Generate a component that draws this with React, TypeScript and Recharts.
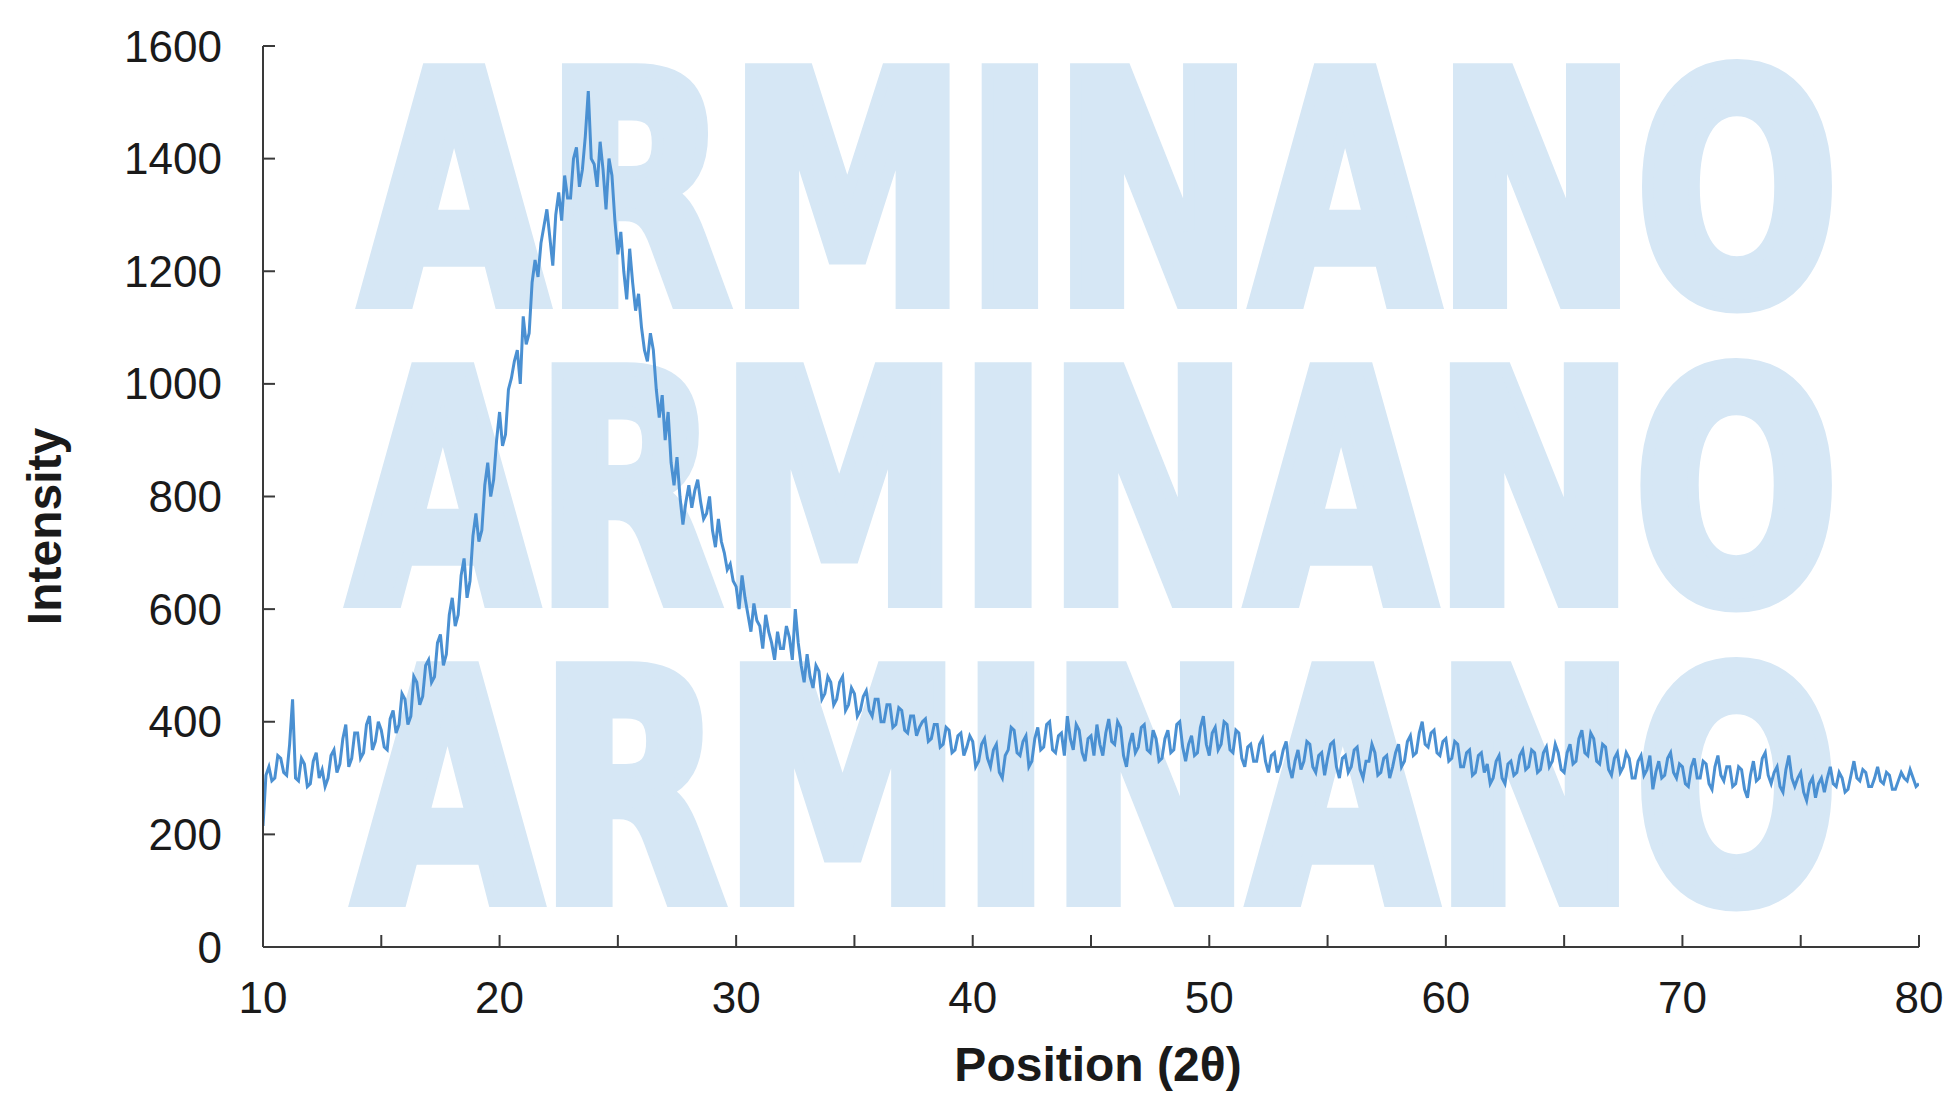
import React from 'react';
import { LineChart, Line, XAxis, YAxis, Customized } from 'recharts';

// Sampling grid of the scan (degrees 2θ)
const START_ANGLE = 10;
const STEP_ANGLE = 0.125;

// Intensity, eight values per degree from 10° to 80°
const intensity10to20 = [
  215, 305, 320, 295, 300, 340, 335, 310,
  305, 360, 440, 300, 295, 335, 325, 285,
  290, 330, 345, 300, 315, 285, 300, 340,
  350, 310, 325, 370, 395, 320, 335, 380,
  380, 335, 345, 395, 410, 350, 365, 400,
  385, 355, 350, 405, 420, 380, 395, 450,
  440, 395, 410, 480, 470, 430, 445, 500,
  510, 470, 480, 540, 555, 500, 520, 590,
  620, 570, 590, 660, 690, 620, 650, 730,
  770, 720, 740, 820, 860, 800, 830, 900,
];
const intensity20to30 = [
  950, 890, 910, 990, 1010, 1040, 1060, 1000,
  1120, 1070, 1090, 1180, 1220, 1190, 1250, 1280,
  1310, 1260, 1210, 1300, 1340, 1290, 1370, 1330,
  1330, 1400, 1420, 1350, 1380, 1440, 1520, 1400,
  1390, 1350, 1430, 1380, 1310, 1400, 1370, 1290,
  1230, 1270, 1200, 1150, 1240, 1180, 1130, 1160,
  1100, 1060, 1040, 1090, 1060, 990, 940, 980,
  900, 950, 860, 820, 870, 800, 750, 790,
  820, 780, 810, 830, 790, 760, 770, 800,
  740, 710, 760, 720, 700, 670, 680, 650,
];
const intensity30to40 = [
  640, 600, 660, 620, 590, 560, 610, 580,
  570, 530, 590, 560, 540, 510, 560, 530,
  530, 570, 550, 510, 600, 540, 500, 470,
  520, 480, 460, 500, 490, 440, 450, 480,
  470, 430, 440, 470, 480, 420, 430, 460,
  450, 410, 420, 445, 455, 420, 410, 440,
  440, 400, 400, 430, 430, 390, 395, 425,
  420, 385, 380, 410, 410, 375, 390, 400,
  405, 365, 370, 395, 395, 355, 360, 390,
  385, 345, 350, 375, 380, 340, 355, 375,
];
const intensity40to50 = [
  365, 320, 330, 360, 370, 335, 320, 350,
  360, 310, 300, 340, 350, 390, 385, 345,
  340, 365, 375, 320, 330, 370, 390, 350,
  355, 395, 400, 350, 345, 375, 380, 340,
  410, 370, 350, 395, 385, 345, 330, 370,
  375, 340, 395, 360, 340, 380, 405, 365,
  360, 400, 390, 340, 320, 360, 380, 345,
  355, 390, 395, 350, 345, 385, 370, 330,
  335, 370, 385, 345, 350, 395, 400, 355,
  330, 360, 375, 340, 345, 390, 410, 360,
];
const intensity50to60 = [
  340, 380, 390, 350, 360, 400, 395, 350,
  345, 385, 380, 335, 320, 355, 360, 330,
  330, 360, 370, 330, 310, 340, 345, 310,
  325, 350, 365, 320, 300, 330, 350, 315,
  330, 365, 360, 320, 310, 340, 345, 305,
  335, 360, 365, 320, 300, 335, 340, 310,
  320, 350, 355, 315, 300, 330, 330, 360,
  345, 305, 310, 335, 340, 300, 320, 345,
  360, 320, 330, 365, 375, 340, 345, 380,
  400, 360, 355, 380, 385, 345, 340, 365,
];
const intensity60to70 = [
  370, 330, 335, 365, 360, 320, 320, 345,
  350, 305, 310, 340, 345, 310, 325, 290,
  300, 330, 340, 300, 290, 325, 330, 305,
  310, 340, 350, 315, 320, 350, 345, 310,
  315, 345, 355, 320, 330, 360, 345, 315,
  310, 345, 360, 325, 330, 370, 385, 345,
  340, 380, 370, 330, 325, 360, 355, 315,
  305, 335, 345, 310, 320, 345, 335, 300,
  300, 330, 340, 305, 315, 340, 280, 310,
  330, 300, 305, 335, 345, 310, 300, 325,
];
const intensity70to80 = [
  320, 290, 285, 320, 335, 300, 300, 330,
  325, 290, 280, 320, 340, 305, 295, 320,
  320, 285, 290, 320, 315, 280, 265, 305,
  330, 295, 300, 335, 345, 305, 290, 310,
  320, 285, 275, 315, 340, 300, 285, 300,
  310, 275, 260, 290, 300, 265, 290, 300,
  275, 300, 320, 290, 285, 310, 300, 275,
  280, 305, 330, 300, 295, 315, 310, 285,
  285, 300, 320, 295, 290, 310, 305, 280,
  280, 295, 310, 300, 295, 315, 300, 285,
  290,
];

const intensity = [
  ...intensity10to20,
  ...intensity20to30,
  ...intensity30to40,
  ...intensity40to50,
  ...intensity50to60,
  ...intensity60to70,
  ...intensity70to80,
];

const xTicks = [10, 15, 20, 25, 30, 35, 40, 45, 50, 55, 60, 65, 70, 75, 80];
const yTicks = [0, 200, 400, 600, 800, 1000, 1200, 1400, 1600];
const xTitle = 'Position (2θ)';
const yTitle = 'Intensity';
const watermarkRows = ['ARMINANO', 'ARMINANO', 'ARMINANO'];

const data = intensity.map((v, i) => ({ pos: START_ANGLE + i * STEP_ANGLE, v }));

const W = 1954;
const H = 1098;
const FONT = "'Liberation Sans', Arial, sans-serif";
const AXIS_COLOR = '#3a3a3a';
const TEXT_COLOR = '#1a1a1a';
const LINE_COLOR = '#4a90d2';
const WM_COLOR = '#d6e7f5';

const Watermark = () => {
  const baselines = [302, 601, 900];
  const lefts = [362, 350, 355];
  return (
    <g>
      {watermarkRows.map((w, i) => (
        <text
          key={i}
          x={lefts[i]}
          y={baselines[i]}
          textLength={1838 - lefts[i]}
          lengthAdjust="spacingAndGlyphs"
          fill={WM_COLOR}
          stroke={WM_COLOR}
          strokeWidth={14}
          strokeLinejoin="miter"
          fontFamily="'Liberation Sans Narrow', 'DejaVu Sans Condensed', sans-serif"
          fontWeight="bold"
          fontSize={318}
        >
          {w}
        </text>
      ))}
    </g>
  );
};

const YTitle = (props: any) => {
  const vb = props.viewBox || { y: 46, height: 901 };
  const cx = 44;
  const cy = vb.y + vb.height / 2 + 30;
  return (
    <text
      x={cx}
      y={cy}
      transform={`rotate(-90 ${cx} ${cy})`}
      textAnchor="middle"
      dominantBaseline="central"
      fontFamily={FONT}
      fontWeight="bold"
      fontSize={48}
      fill={TEXT_COLOR}
    >
      {yTitle}
    </text>
  );
};

export default function App() {
  return (
    <div style={{ position: 'absolute', left: 0, top: 0, width: W, height: H, background: '#fff' }}>
      <LineChart
        width={W}
        height={H}
        data={data}
        margin={{ top: 46, right: 35, left: 63, bottom: 0 }}
      >
        <Customized component={Watermark} />
        <XAxis
          dataKey="pos"
          type="number"
          domain={[10, 80]}
          ticks={xTicks}
          allowDataOverflow
          height={151}
          tickSize={-12}
          tickMargin={47}
          tickFormatter={(v: number) => (v % 10 === 0 ? String(v) : '')}
          tick={{ fill: TEXT_COLOR, fontSize: 44, fontFamily: FONT }}
          axisLine={{ stroke: AXIS_COLOR, strokeWidth: 2 }}
          tickLine={{ stroke: AXIS_COLOR, strokeWidth: 2 }}
          label={{
            value: xTitle,
            position: 'insideBottom',
            offset: 17,
            dx: 7,
            fill: TEXT_COLOR,
            fontSize: 48,
            fontWeight: 'bold',
            fontFamily: FONT,
          }}
        />
        <XAxis
          xAxisId="top"
          orientation="top"
          type="number"
          domain={[10, 80]}
          height={0}
          tick={false}
          tickLine={false}
          axisLine={{ stroke: AXIS_COLOR, strokeWidth: 2 }}
        />
        <YAxis
          type="number"
          domain={[0, 1600]}
          ticks={yTicks}
          width={200}
          tickSize={-12}
          tickMargin={53}
          tick={{ fill: TEXT_COLOR, fontSize: 44, fontFamily: FONT }}
          axisLine={{ stroke: AXIS_COLOR, strokeWidth: 2 }}
          tickLine={{ stroke: AXIS_COLOR, strokeWidth: 2 }}
          label={{ content: YTitle }}
        />
        <YAxis
          yAxisId="right"
          orientation="right"
          type="number"
          domain={[0, 1600]}
          width={0}
          tick={false}
          tickLine={false}
          axisLine={{ stroke: AXIS_COLOR, strokeWidth: 2 }}
        />
        <Line
          type="linear"
          dataKey="v"
          stroke={LINE_COLOR}
          strokeWidth={3}
          strokeLinejoin="miter"
          dot={false}
          activeDot={false}
          isAnimationActive={false}
        />
      </LineChart>
    </div>
  );
}
